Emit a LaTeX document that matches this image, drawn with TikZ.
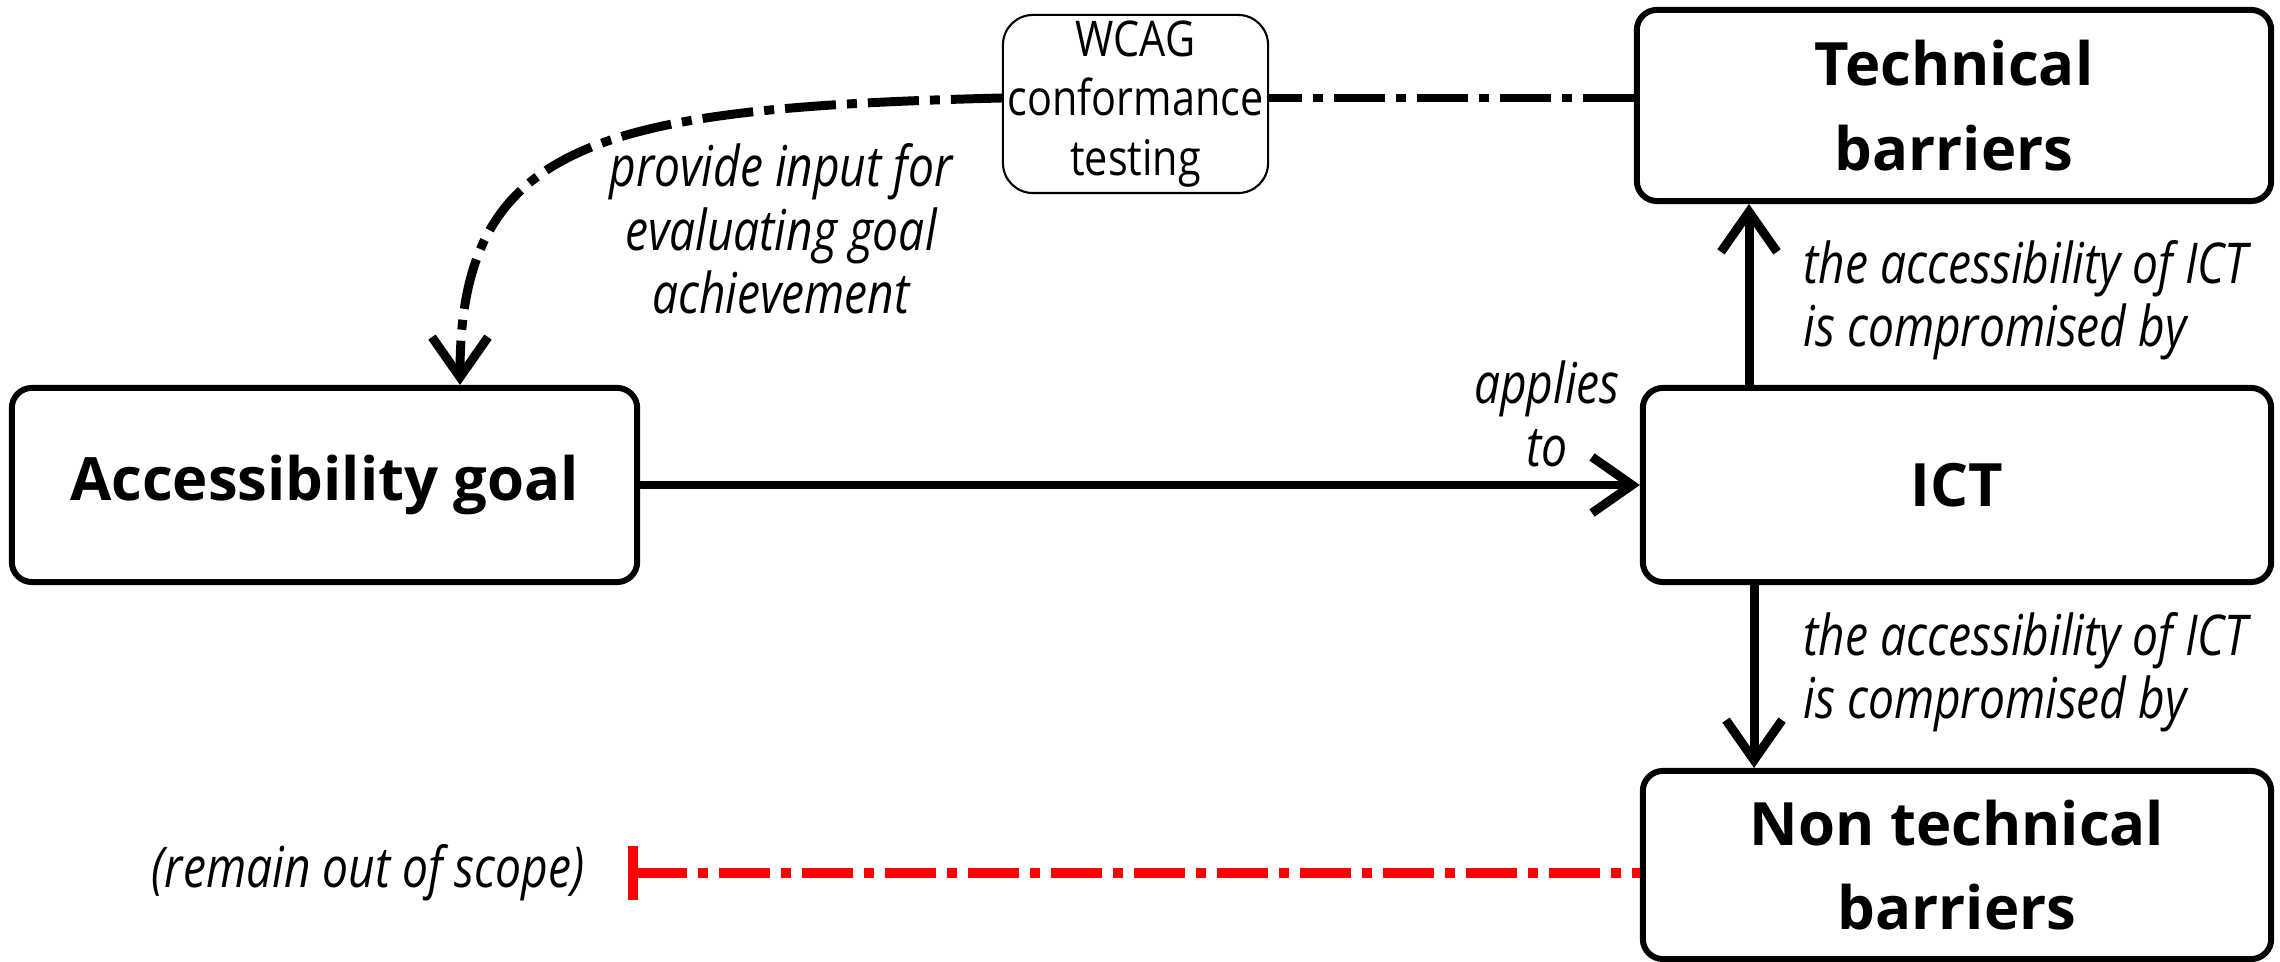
\documentclass[tikz,border=0pt]{standalone}
\usepackage{fontspec}
\setmainfont{Open Sans}
\newfontfamily\lblfont{Open Sans}[FakeStretch=0.82]
\newfontfamily\wcagfont{Open Sans}[FakeStretch=0.84]
\usetikzlibrary{arrows.meta,calc}
\tikzset{
  box/.style={draw, line width=1.7pt, rounded corners=0.2cm, align=center,
    font=\bfseries\fontsize{17}{24}\selectfont, inner sep=0pt},
  smallbox/.style={draw, line width=0.6pt, rounded corners=0.3cm, align=center,
    font=\wcagfont\fontsize{14}{17}\selectfont, inner sep=0pt},
  conn/.style={line width=2.55pt},
  barb/.style={-{Straight Barb[length=0.40cm,width=0.56cm,line width=2.55pt]}},
  dashdot/.style={dash pattern=on 0.51cm off 0.11cm on 0.10cm off 0.11cm},
  lbl/.style={font=\lblfont\itshape\fontsize{16}{18}\selectfont, inner sep=0pt},
}
\begin{document}
\begin{tikzpicture}[x=0.01cm,y=-0.01cm]
\useasboundingbox (0,0) rectangle (2280,962);
% nodes
\node[box, minimum width=6.25cm, minimum height=1.94cm] (goal) at (324.5,485) {Accessibility goal};
\node[box, minimum width=6.34cm, minimum height=1.91cm] (tech) at (1954,105.5) {Technical\\barriers};
\node[box, minimum width=6.28cm, minimum height=1.94cm] (ict) at (1957,485) {ICT};
\node[box, minimum width=6.28cm, minimum height=1.88cm] (nontech) at (1957,865) {Non technical\\barriers};
\node[smallbox, minimum width=2.65cm, minimum height=1.78cm] (wcag) at (1135.5,104) {WCAG\\conformance\\testing};
% coordinates
\coordinate (wc) at (0,98);
\coordinate (upx) at (1749,0);
\coordinate (dnx) at (1754,0);
\coordinate (gx) at (460,0);
\coordinate (oos) at (628,873);
% connectors
\draw[conn, barb] (goal.east) -- (ict.west);
\draw[conn, barb] (ict.north -| upx) -- (tech.south -| upx);
\draw[conn, barb] (ict.south -| dnx) -- (nontech.north -| dnx);
\draw[conn, dashdot] (tech.west |- wc) -- (wcag.east |- wc);
\draw[conn, dashdot, barb] (wcag.west |- wc) .. controls (600,108) and (460,140) .. (goal.north -| gx);
\draw[line width=2.9pt, red, dashdot, {Bar[width=0.53cm,line width=2.9pt]}-] (oos) -- (nontech.west |- oos);
% labels
\node[lbl, align=center] (applies) at (1547,414) {applies\\to};
\node[lbl, align=left, anchor=west] (comp1) at (1803,300) {the accessibility of ICT\\is compromised by};
\node[lbl, align=left, anchor=west] (comp2) at (1803,672) {the accessibility of ICT\\is compromised by};
\node[lbl, align=center] (provide) at (781,229) {provide input for\\evaluating goal\\achievement};
\node[lbl, anchor=east] (scope) at (585,873) {(remain out of scope)};
\end{tikzpicture}
\end{document}
